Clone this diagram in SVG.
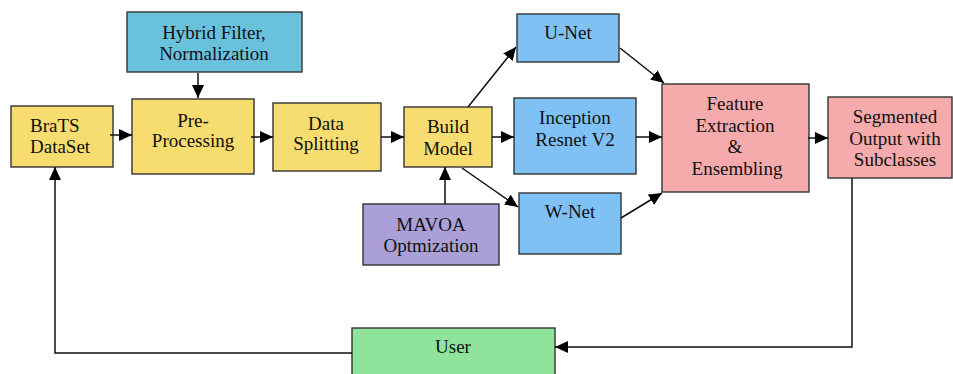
<svg xmlns="http://www.w3.org/2000/svg" width="953" height="374" viewBox="0 0 953 374">
<defs>
<marker id="arr" markerUnits="userSpaceOnUse" markerWidth="13" markerHeight="12" refX="13" refY="6" orient="auto">
<path d="M0,0 L13,6 L0,12 z" fill="#000"/>
</marker>
<style>
.box{stroke:#333;stroke-width:1.4}
.y{fill:#F7DC6F}.c{fill:#69C1DC}.b{fill:#7FC1F5}.p{fill:#F5ABAB}.v{fill:#AA9FD6}.g{fill:#8FE39A}
text{font-family:"Liberation Serif","Times New Roman",serif;font-size:19px;fill:#111;text-anchor:middle}
.con path{fill:none;stroke:#111;stroke-width:1.5;marker-end:url(#arr)}
.con path.plain{marker-end:none}
</style>
</defs>
<rect width="953" height="374" fill="#fff"/>
<g id="hybrid"><rect class="box c" x="127" y="12" width="175" height="60"/><text x="214" y="39">Hybrid Filter,</text><text x="214" y="60">Normalization</text></g>
<g id="brats"><rect class="box y" x="11" y="106" width="102" height="61"/><text x="30" y="132" style="text-anchor:start">BraTS</text><text x="30" y="153" style="text-anchor:start">DataSet</text></g>
<g id="preprocessing"><rect class="box y" x="132" y="99" width="122" height="75"/><text x="193" y="127">Pre-</text><text x="193" y="147">Processing</text></g>
<g id="datasplitting"><rect class="box y" x="273" y="103" width="108" height="68"/><text x="326" y="130">Data</text><text x="326" y="150">Splitting</text></g>
<g id="buildmodel"><rect class="box y" x="404" y="107" width="88" height="60"/><text x="448" y="133">Build</text><text x="448" y="155">Model</text></g>
<g id="unet"><rect class="box b" x="517" y="14" width="102" height="48"/><text x="568" y="39">U-Net</text></g>
<g id="inception"><rect class="box b" x="514" y="98" width="122" height="76"/><text x="575" y="124">Inception</text><text x="575" y="146">Resnet V2</text></g>
<g id="wnet"><rect class="box b" x="519" y="193" width="102" height="61"/><text x="570" y="218">W-Net</text></g>
<g id="mavoa"><rect class="box v" x="363" y="204" width="136" height="61"/><text x="431" y="231">MAVOA</text><text x="431" y="252">Optmization</text></g>
<g id="feature"><rect class="box p" x="662" y="84" width="147" height="108"/><text x="735" y="110">Feature</text><text x="735" y="132">Extraction</text><text x="735" y="153">&amp;</text><text x="737" y="175">Ensembling</text></g>
<g id="segmented"><rect class="box p" x="828" y="97" width="124" height="81"/><text x="895" y="123">Segmented</text><text x="895" y="145">Output with</text><text x="895" y="166">Subclasses</text></g>
<g id="user"><rect class="box g" x="352" y="328" width="203" height="50"/><text x="453" y="353">User</text></g>
<g id="connectors" class="con">
<path d="M110,135 L132,135"/>
<path d="M198,73 L198,98"/>
<path d="M251,137 L273,137"/>
<path d="M381,137 L404,137"/>
<path d="M492,137 L514,137"/>
<path d="M468,107 L516,47"/>
<path d="M462,168 L518,207"/>
<path d="M445,204 L445,167"/>
<path d="M620,48 L664,83"/>
<path d="M636,137 L662,137"/>
<path d="M621,218 L662,193"/>
<path d="M808,138 L828,138"/>
<path d="M852,178 L852,347 L555,347"/>
<path d="M352,353 L55,353 L55,167"/>
</g>
</svg>
